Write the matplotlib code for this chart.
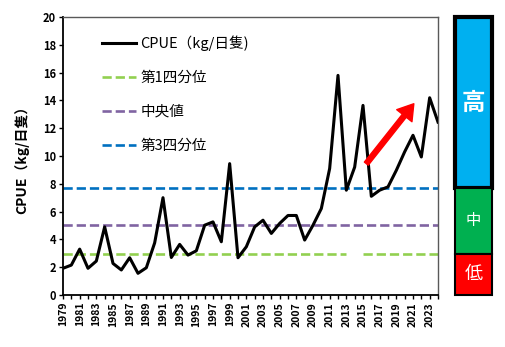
import numpy as np
import matplotlib.pyplot as plt
from matplotlib.patches import Rectangle
from matplotlib.transforms import blended_transform_factory

plt.rcParams['font.family'] = ['Noto Sans CJK JP', 'DejaVu Sans']

# 年別CPUE
years = np.arange(1979, 2025)
cpue = [1.92, 2.15, 3.3, 1.92, 2.44, 4.9, 2.27, 1.8, 2.68, 1.56,
        1.96, 3.75, 7.0, 2.7, 3.64, 2.87, 3.18, 5.02, 5.26, 3.83,
        9.45, 2.68, 3.47, 4.9, 5.38, 4.43, 5.15, 5.72, 5.72, 3.95,
        5.02, 6.22, 9.1, 15.8, 7.54, 9.2, 13.64, 7.1, 7.54, 7.78,
        8.97, 10.3, 11.49, 9.93, 14.19, 12.44]

# 四分位・中央値
q1 = 2.98
median = 5.07
q3 = 7.7
gap_year = 2014  # 第1四分位の線が途切れている年

q1_line = np.full(len(years), q1)
q1_line[years == gap_year] = np.nan

# 増加傾向の矢印（年, 値）
arrow_start = (2015.4, 9.45)
arrow_end = (2021.1, 13.76)

fig = plt.figure(figsize=(5.06, 3.47), dpi=100)
ax = fig.add_axes([0.1245, 0.1499, 0.7411, 0.8011])

ax.plot(years, cpue, color='black', lw=2.2, label='CPUE（kg/日隻)', zorder=5)
ax.plot(years, q1_line, color='#92d050', lw=1.9, dashes=(3.5, 1.5), label='第1四分位')
ax.plot(years, np.full(len(years), median), color='#8064a2', lw=1.9, dashes=(3.5, 1.5), label='中央値')
ax.plot(years, np.full(len(years), q3), color='#0070c0', lw=1.9, dashes=(3.5, 1.5), label='第3四分位')

ax.annotate('', xy=arrow_end, xytext=arrow_start,
            arrowprops=dict(facecolor='red', edgecolor='red', width=3.6,
                            headwidth=14, headlength=11, shrink=0), zorder=6)

ax.set_xlim(years[0], years[-1])
ax.set_ylim(0, 20)
ax.set_yticks(np.arange(0, 21, 2))
ax.set_xticks(years)
ax.set_xticklabels([str(y) if (y - years[0]) % 2 == 0 else '' for y in years],
                   rotation=90, fontsize=7.5, fontweight='bold')
for lab in ax.get_yticklabels():
    lab.set_fontweight('bold')
    lab.set_fontsize(8)
ax.tick_params(axis='both', direction='out', length=3, width=1, pad=2)
ax.set_ylabel('CPUE（kg/日隻）', fontsize=10, fontweight='bold', labelpad=10)

for s in ['top', 'right']:
    ax.spines[s].set_color('#595959')
    ax.spines[s].set_linewidth(1)
for s in ['left', 'bottom']:
    ax.spines[s].set_color('black')
    ax.spines[s].set_linewidth(1.3)

ax.legend(loc='upper left', bbox_to_anchor=(0.105, 0.935), frameon=False,
          fontsize=10.5, labelspacing=1.38, handlelength=2.3,
          handletextpad=0.3, borderpad=0, borderaxespad=0)

# 右側の 高・中・低 の目安
tr = blended_transform_factory(fig.transFigure, ax.transData)
bx, bw = 455 / 506, 37 / 506
levels = [('高', q3, 20, '#00b0f0', 3.0, 17, 'bold'),
          ('中', q1, q3, '#00b050', 1.5, 11, 'normal'),
          ('低', 0, q1, '#ff0000', 1.5, 13, 'normal')]
for name, lo, hi, col, lw, fs, fw in levels:
    ax.add_patch(Rectangle((bx, lo), bw, hi - lo, transform=tr, facecolor=col,
                           edgecolor='black', lw=lw, clip_on=False))
    ax.text(bx + bw / 2, (lo + hi) / 2, name, transform=tr, color='white',
            fontsize=fs, fontweight=fw, ha='center', va='center')

fig.savefig('out.png', dpi=100)
